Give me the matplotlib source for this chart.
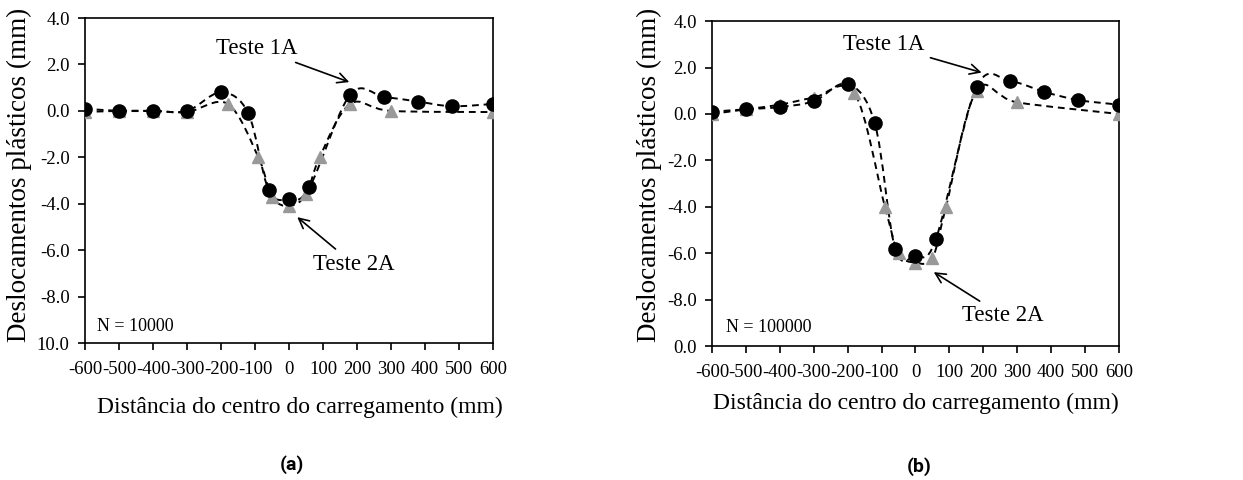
import numpy as np
import matplotlib
matplotlib.use("Agg")
import matplotlib.pyplot as plt
from matplotlib.path import Path
from matplotlib.patches import PathPatch

plt.rcParams['font.family'] = ['Liberation Serif', 'DejaVu Serif']

# ---- data (mm) ----
# (a) N = 10000
a_x_1a = [-600, -500, -400, -300, -200, -120, -60, 0, 60, 180, 280, 380, 480, 600]
a_y_1a = [0.1, 0.0, 0.0, 0.0, 0.8, -0.1, -3.4, -3.8, -3.3, 0.7, 0.6, 0.4, 0.2, 0.3]
a_x_2a = [-600, -500, -400, -300, -180, -90, -50, 0, 50, 90, 180, 300, 600]
a_y_2a = [-0.05, 0.0, 0.0, -0.05, 0.3, -2.0, -3.7, -4.1, -3.6, -2.0, 0.3, 0.0, -0.05]

# (b) N = 100000
b_x_1a = [-600, -500, -400, -300, -200, -120, -60, 0, 60, 180, 280, 380, 480, 600]
b_y_1a = [0.1, 0.2, 0.3, 0.55, 1.3, -0.4, -5.8, -6.1, -5.4, 1.15, 1.4, 0.95, 0.6, 0.4]
b_x_2a = [-600, -500, -400, -300, -180, -90, -50, 0, 50, 90, 180, 300, 600]
b_y_2a = [0.0, 0.2, 0.4, 0.7, 0.9, -4.0, -6.0, -6.4, -6.2, -4.0, 1.0, 0.5, 0.0]

x_ticks = list(range(-600, 601, 100))
y_ticks = [4, 2, 0, -2, -4, -6, -8, -10]
a_ytick_labels = ["4.0", "2.0", "0.0", "-2.0", "-4.0", "-6.0", "-8.0", "10.0"]
b_ytick_labels = ["4.0", "2.0", "0.0", "-2.0", "-4.0", "-6.0", "-8.0", "0.0"]


def smooth_line(ax, xs, ys, **kw):
    # excel-style smoothed line: catmull-rom segments as cubic bezier
    pts = np.column_stack([xs, ys]).astype(float)
    verts = [pts[0]]
    codes = [Path.MOVETO]
    n = len(pts)
    for i in range(n - 1):
        p0 = pts[i - 1] if i > 0 else pts[i]
        p1, p2 = pts[i], pts[i + 1]
        p3 = pts[i + 2] if i + 2 < n else pts[i + 1]
        c1 = p1 + (p2 - p0) / 6.0
        c2 = p2 - (p3 - p1) / 6.0
        verts += [c1, c2, p2]
        codes += [Path.CURVE4] * 3
    patch = PathPatch(Path(verts, codes), fill=False, transform=ax.transData, **kw)
    ax.add_patch(patch)


def panel(ax, x1, y1, x2, y2, ylabels, n_text, t1, t2, xlab_pos, ylab_pos):
    line_kw = dict(edgecolor='black', lw=1.4, linestyle=(0, (3.5, 2.5)), zorder=2)
    smooth_line(ax, x1, y1, **line_kw)
    smooth_line(ax, x2, y2, **line_kw)
    ax.plot(x2, y2, linestyle='none', marker='^', ms=8.5, color='#999999', zorder=3)
    ax.plot(x1, y1, linestyle='none', marker='o', ms=9.5, color='black', zorder=4)

    ax.set_xlim(-600, 600)
    ax.set_ylim(-10, 4)
    ax.set_xticks(x_ticks)
    ax.set_xticklabels([str(v) for v in x_ticks])
    ax.set_yticks(y_ticks)
    ax.set_yticklabels(ylabels)
    ax.tick_params(direction='out', length=5, width=1.2, labelsize=13.5, colors='black')
    ax.tick_params(axis='x', pad=8)
    ax.tick_params(axis='y', pad=6)
    for s in ax.spines.values():
        s.set_linewidth(1.2)
    ax.set_xlabel("Distância do centro do carregamento (mm)", fontsize=17)
    ax.set_ylabel("Deslocamentos plásticos (mm)", fontsize=19.5)
    ax.xaxis.set_label_coords(*xlab_pos)
    ax.yaxis.set_label_coords(*ylab_pos)

    ax.text(n_text[0], n_text[1], n_text[2], fontsize=13, va='center', ha='left')

    arrow = dict(arrowstyle='->', color='black', lw=1.2, mutation_scale=18)
    ax.annotate("Teste 1A", xy=t1[0], xytext=t1[1], fontsize=16.5,
                ha='right', va='center', arrowprops=arrow)
    ax.annotate("Teste 2A", xy=t2[0], xytext=t2[1], fontsize=16.5,
                ha='left', va='center', arrowprops=arrow)


fig = plt.figure(figsize=(12.43, 4.8), dpi=100)
ax_a = fig.add_axes([0.0684, 0.2854, 0.3282, 0.677])
ax_b = fig.add_axes([0.5728, 0.279, 0.3274, 0.677])

panel(ax_a, a_x_1a, a_y_1a, a_x_2a, a_y_2a, a_ytick_labels,
      (-565, -9.3, "N = 10000"),
      ((185, 1.2), (25, 2.7)),
      ((18, -4.5), (70, -6.6)),
      (0.527, -0.165), (-0.13, 0.517))
panel(ax_b, b_x_1a, b_y_1a, b_x_2a, b_y_2a, b_ytick_labels,
      (-560, -9.2, "N = 100000"),
      ((203, 1.75), (28, 3.0)),
      ((47, -6.75), (138, -8.7)),
      (0.5, -0.145), (-0.122, 0.526))

fig.text(292 / 1243, 1 - 465 / 480, "(a)", fontsize=14, fontweight='bold',
         family='Roboto', ha='center', va='center')
fig.text(919 / 1243, 1 - 467 / 480, "(b)", fontsize=14, fontweight='bold',
         family='Roboto', ha='center', va='center')

fig.savefig("out.png", dpi=100)
